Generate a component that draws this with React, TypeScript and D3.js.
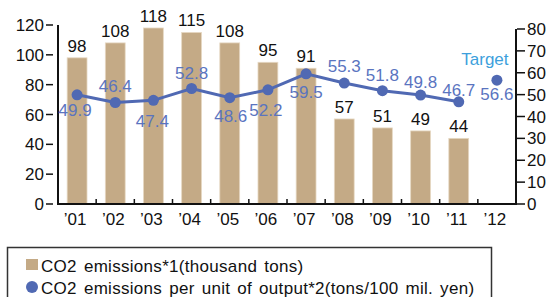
import React from "react";
import * as d3 from "d3";

const years = ["’01", "’02", "’03", "’04", "’05", "’06", "’07", "’08", "’09", "’10", "’11", "’12"];
const emissions = [98, 108, 118, 115, 108, 95, 91, 57, 51, 49, 44];
const intensity = [49.9, 46.4, 47.4, 52.8, 48.6, 52.2, 59.5, 55.3, 51.8, 49.8, 46.7];
const targetValue = 56.6;
const leftTicks = [0, 20, 40, 60, 80, 100, 120];
const rightTicks = [0, 10, 20, 30, 40, 50, 60, 70, 80];
// label placement: dx, dy relative to point (baseline)
const labelOffsets: [number, number][] = [
  [-2, 21], [0, -11], [-1, 27], [0, -10], [1, 24], [-2, 26], [0, 24], [0, -11], [0, -10], [0, -7], [0, -6],
];

const FONT = "'Liberation Sans', Arial, sans-serif";
const BAR = "#c4aa86";
const BLUE = "#5069b3";
const LBLUE = "#5a74bf";

export default function App() {
  const x = d3.scaleBand<string>().domain(years).range([58, 516]).padding(0);
  const yL = d3.scaleLinear().domain([0, 120]).range([204, 25]);
  const yR = d3.scaleLinear().domain([0, 80]).range([204, 29]);
  const bw = x.bandwidth() * 0.52;
  const cx = (i: number) => (x(years[i]) as number) + x.bandwidth() / 2;

  const linePts: [number, number][] = intensity.map((v, i) => [cx(i), yR(v)]);
  const line = d3.line()(linePts) as string;
  const tIdx = years.length - 1;

  return (
    <svg
      width={548}
      height={297}
      style={{ position: "absolute", left: 0, top: 0, background: "#fff" }}
      fontFamily={FONT}
    >
      {/* bars */}
      {emissions.map((v, i) => (
        <g key={"b" + i}>
          <rect x={cx(i) - bw / 2} y={yL(v)} width={bw} height={yL(0) - yL(v)} fill={BAR} stroke="#e6d8c3" strokeWidth={0.8} />
          <text x={cx(i)} y={yL(v) - 6} textAnchor="middle" fontSize={17} fill="#111">
            {v}
          </text>
        </g>
      ))}

      {/* axes */}
      <line x1={58} x2={58} y1={yL(120)} y2={205} stroke="#111" strokeWidth={2} />
      <line x1={516} x2={516} y1={yR(80)} y2={205} stroke="#111" strokeWidth={2} />
      <line x1={57} x2={517} y1={204} y2={204} stroke="#111" strokeWidth={2} />
      {years.slice(1).map((y, i) => (
        <line key={"ct" + i} x1={x(y) as number} x2={x(y) as number} y1={199} y2={204} stroke="#111" strokeWidth={1.5} />
      ))}
      {leftTicks.map((t) => (
        <g key={"lt" + t}>
          <line x1={46} x2={53} y1={yL(t)} y2={yL(t)} stroke="#111" strokeWidth={1.5} />
          <text x={44} y={yL(t) + 6} textAnchor="end" fontSize={17} fill="#111">
            {t}
          </text>
        </g>
      ))}
      {rightTicks.map((t) => (
        <g key={"rt" + t}>
          <line x1={517} x2={525} y1={yR(t)} y2={yR(t)} stroke="#111" strokeWidth={1.5} />
          <text x={527} y={yR(t) + 6} fontSize={17} fill="#111">
            {t}
          </text>
        </g>
      ))}
      {years.map((y, i) => (
        <text key={"xl" + i} x={cx(i) - 2} y={225} textAnchor="middle" fontSize={17} fill="#111">
          {y}
        </text>
      ))}

      {/* line series */}
      <path d={line} fill="none" stroke={BLUE} strokeWidth={3} />
      {linePts.map((p, i) => (
        <circle key={"c" + i} cx={p[0]} cy={p[1]} r={5.5} fill={BLUE} />
      ))}
      {intensity.map((v, i) => (
        <text
          key={"ll" + i}
          x={linePts[i][0] + labelOffsets[i][0]}
          y={linePts[i][1] + labelOffsets[i][1]}
          textAnchor="middle"
          fontSize={17}
          fill={LBLUE}
        >
          {v.toFixed(1)}
        </text>
      ))}
      <circle cx={cx(tIdx)} cy={yR(targetValue)} r={5.5} fill={BLUE} />
      <text x={cx(tIdx)} y={yR(targetValue) + 20} textAnchor="middle" fontSize={17} fill={LBLUE}>
        {targetValue.toFixed(1)}
      </text>
      <text x={cx(tIdx) - 12} y={65} textAnchor="middle" fontSize={17} fill="#3d9fdc">
        Target
      </text>

      {/* legend */}
      <rect x={7.5} y={247.5} width={484} height={60} fill="none" stroke="#333" strokeWidth={1.5} />
      <rect x={26} y={259} width={12} height={11} fill={BAR} />
      <text x={41} y={272} fontSize={17} fill="#111" letterSpacing={0.3} wordSpacing={2}>
        CO2 emissions*1(thousand tons)
      </text>
      <circle cx={32} cy={287} r={6} fill={BLUE} />
      <text x={41} y={294} fontSize={17} fill="#111" letterSpacing={0.3} wordSpacing={2}>
        CO2 emissions per unit of output*2(tons/100 mil. yen)
      </text>
    </svg>
  );
}
